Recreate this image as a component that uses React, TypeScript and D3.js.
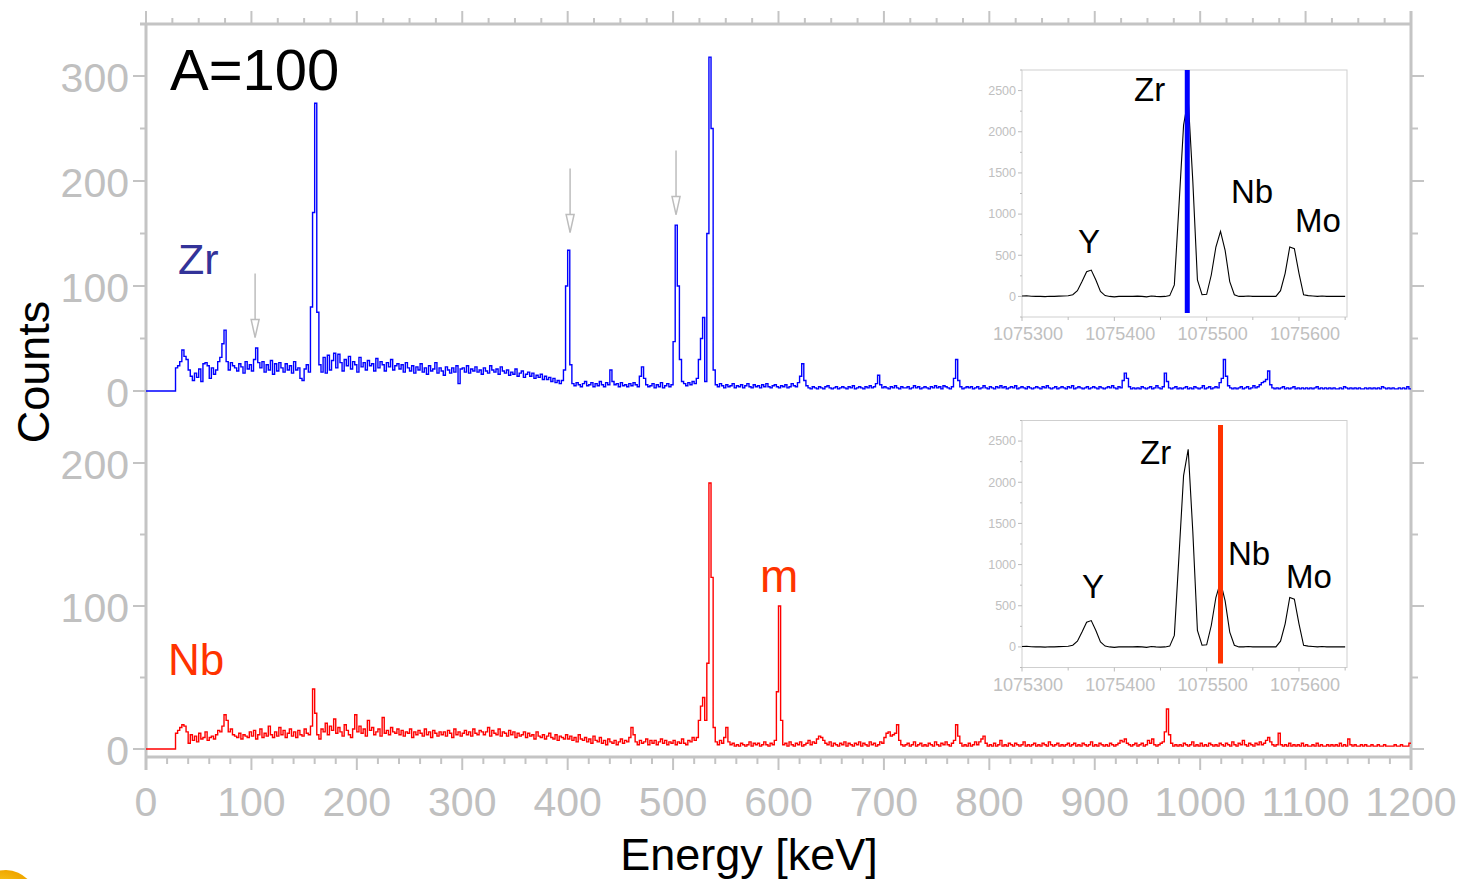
import React from "react";
import * as d3 from "d3";

// ---------- data ----------
const binWidth = 2; // keV per channel, channels start at 0 keV
const zrCounts = [
  0,0,0,0,0,0,0,0,0,0,
  0,0,0,0,22,24,28,39,33,30,
  20,14,10,17,13,21,9,26,27,24,
  12,22,16,20,28,32,45,58,28,20,
  27,24,22,19,26,23,17,28,21,25,
  19,30,41,27,22,28,18,25,20,29,
  16,26,19,27,22,18,26,20,24,17,
  28,20,22,12,10,21,25,18,80,170,
  274,75,25,18,32,17,34,20,29,36,
  22,35,27,19,30,24,33,21,28,25,
  18,32,23,27,20,29,24,26,19,31,
  22,28,25,19,27,23,30,20,24,26,
  21,25,18,27,22,19,24,17,23,20,
  26,18,22,16,24,19,21,27,17,22,
  19,15,23,20,17,22,18,24,7,21,
  22,18,24,17,21,19,23,18,20,16,
  22,19,17,24,20,18,21,16,23,19,
  17,20,15,18,16,21,14,17,19,13,
  16,18,14,17,12,15,13,16,11,14,
  11,13,9,12,8,10,7,10,20,100,
  134,25,7,5,8,6,4,7,9,5,
  6,8,4,7,5,9,6,4,8,6,
  20,9,6,7,4,8,5,6,4,7,
  5,8,6,4,14,23,12,6,4,5,
  7,3,6,4,8,3,5,7,4,6,
  47,158,100,30,9,7,5,8,6,9,
  7,12,30,50,70,9,150,318,250,20,
  6,4,7,5,3,6,4,5,7,3,
  5,4,6,3,5,7,4,3,6,4,
  5,3,6,4,7,4,3,5,6,4,
  3,5,4,6,3,4,7,5,4,8,
  14,26,10,5,3,2,4,3,2,4,
  3,2,4,5,3,2,3,4,2,3,
  4,3,2,4,3,5,2,3,4,3,
  2,4,3,5,3,4,7,15,6,3,
  4,3,2,4,3,5,3,2,4,3,
  3,4,2,3,5,3,4,2,3,4,
  3,2,4,3,5,3,4,2,5,4,
  3,2,4,12,30,10,4,2,3,4,
  3,4,2,3,4,2,3,5,3,2,
  4,3,2,4,3,5,3,4,2,3,
  4,3,5,2,3,4,3,2,4,3,
  2,3,4,3,2,4,3,5,3,2,
  3,4,2,3,4,3,2,4,3,5,
  2,3,4,3,2,3,4,2,3,4,
  3,2,4,3,2,3,4,3,5,3,
  2,4,3,10,17,12,4,2,3,2,
  3,2,4,3,2,3,4,2,3,5,
  3,2,4,17,9,3,2,3,4,2,
  3,2,3,4,2,3,2,4,3,2,
  3,5,2,3,4,2,3,4,3,8,
  12,30,14,5,3,2,3,2,3,4,
  2,3,4,2,3,5,3,4,6,8,
  9,11,19,6,3,2,3,2,3,4,
  2,3,2,3,4,2,3,2,3,2,
  3,2,3,2,3,4,2,3,2,3,
  2,3,2,3,2,2,3,2,4,3,
  2,3,2,3,2,3,2,2,3,2,
  3,2,3,2,3,2,4,3,2,3,
  2,3,2,2,3,2,3,2,4,2,
];

const nbCounts = [
  0,0,0,0,0,0,0,0,0,0,
  0,0,0,0,11,13,15,17,16,12,
  4,10,6,9,5,11,7,8,12,6,
  8,9,7,10,13,12,16,24,20,12,
  14,10,9,8,11,7,10,9,8,12,
  9,13,7,10,14,8,11,9,16,10,
  8,12,9,15,10,13,8,11,14,9,
  12,8,13,10,9,14,11,10,16,42,
  25,10,7,14,12,18,10,16,13,21,
  11,15,12,9,17,13,10,8,14,24,
  12,16,11,14,9,20,13,15,10,12,
  14,9,22,11,13,10,15,12,11,14,
  10,13,9,12,11,14,8,12,10,13,
  11,9,14,10,12,8,13,11,9,12,
  10,12,9,13,11,8,14,10,12,9,
  11,13,10,12,9,14,11,10,13,12,
  10,12,15,9,13,11,10,14,9,12,
  11,9,13,10,12,8,11,9,10,12,
  8,11,9,10,7,12,9,8,10,7,
  9,11,8,7,10,6,9,8,7,10,
  7,9,6,8,5,10,7,6,8,5,
  7,4,9,6,5,8,4,6,3,7,
  5,4,6,3,5,7,4,6,5,8,
  15,10,5,3,6,4,5,7,3,6,
  4,6,3,5,7,4,6,3,5,4,
  6,3,5,4,7,4,3,6,5,8,
  6,8,20,30,36,20,60,186,120,15,
  5,3,6,4,8,15,5,3,4,2,
  3,2,4,3,2,3,5,2,4,3,
  4,2,3,5,3,2,4,3,6,40,
  100,20,3,4,2,5,3,2,4,3,
  5,2,3,4,6,3,5,4,7,9,
  8,6,4,3,5,2,4,3,2,4,
  3,5,2,4,3,2,4,3,5,2,
  4,3,2,5,3,4,2,3,5,4,
  8,11,12,9,10,11,17,6,3,2,
  3,4,2,3,5,2,3,4,2,3,
  2,4,3,2,5,3,2,4,3,5,
  3,2,4,6,17,9,4,2,3,2,
  4,2,3,5,3,5,7,9,4,2,
  3,2,4,2,3,6,2,3,2,4,
  3,2,4,3,2,3,5,2,3,2,
  3,4,2,3,2,4,3,2,5,3,
  2,3,4,2,3,2,3,4,2,3,
  4,2,3,2,4,3,2,3,5,2,
  3,2,4,3,2,3,2,4,3,2,
  3,4,6,5,7,4,3,2,3,4,
  2,3,4,2,3,6,4,7,3,2,
  3,4,5,12,28,10,4,2,3,2,
  3,2,4,3,2,3,5,2,3,2,
  4,2,3,2,4,3,2,3,2,4,
  3,2,4,3,2,5,3,2,4,3,
  6,3,2,4,3,2,4,3,5,3,
  4,6,8,5,3,2,3,11,3,2,
  3,2,4,2,3,2,3,2,4,2,
  3,2,2,3,2,4,2,3,2,2,
  3,2,3,2,3,2,4,2,3,2,
  7,3,2,3,2,2,3,2,3,2,
  2,3,2,2,3,2,2,3,2,2,
  2,2,3,2,2,3,2,2,2,4,
];

const energyMajorTicks = [0, 100, 200, 300, 400, 500, 600, 700, 800, 900, 1000, 1100, 1200];
const topYTicks = [0, 100, 200, 300];
const topYMinor = [50, 150, 250];
const botYTicks = [0, 100, 200];
const botYMinor = [50, 150];

// arrows (energy keV, tail counts, tip counts) on the upper spectrum
const arrowEnergy = [103.5, 402.3, 502.8];
const arrowTail = [112, 212, 229];
const arrowTip = [51, 151, 168];

// inset mass spectrum
const insetStart = 1075300;
const insetStep = 5;
const insetCounts = [
  5,8,2,0,0,-3,2,0,3,5,
  8,20,70,180,300,320,200,60,10,0,
  -5,0,2,0,0,3,0,-5,5,0,
  -3,0,10,140,1100,2080,2400,1400,200,20,
  25,260,600,790,560,180,20,0,0,5,
  0,0,0,0,0,0,70,280,600,580,
  280,20,10,5,0,5,0,0,2,0,
  0,
];
const insetXTicks = [1075300, 1075400, 1075500, 1075600];
const insetYTicks = [0, 500, 1000, 1500, 2000, 2500];
const zrMarker = 1075479;
const nbMarker = 1075515;

// ---------- layout ----------
const FONT = "'Liberation Sans', Arial, Helvetica, sans-serif";
const AX = "#c4c4c4";
const LBL = "#c0c0c0";

const xMain = d3.scaleLinear().domain([0, 1200]).range([146, 1411]);
const yTop = d3.scaleLinear().domain([0, 300]).range([391, 76]);
const yBot = d3.scaleLinear().domain([0, 200]).range([749, 463]);

function stepPath(counts: number[], y: d3.ScaleLinear<number, number>) {
  const pts = counts.map((c, i) => [i * binWidth, c] as [number, number]);
  pts.push([counts.length * binWidth, counts[counts.length - 1]]);
  return d3
    .line<[number, number]>()
    .x((d) => xMain(d[0]))
    .y((d) => y(d[1]))
    .curve(d3.curveStepAfter)(pts) as string;
}

type InsetProps = { top: number; marker: number; markerColor: string; labels: { t: string; x: number; y: number }[]; markerTop: number };

function Inset({ top, marker, markerColor, labels, markerTop }: InsetProps) {
  const left = 1022, right = 1347, bottom = top + 247;
  const xs = d3.scaleLinear().domain([1075300, 1075652]).range([left, right]);
  const ys = d3.scaleLinear().domain([-250, 2750]).range([bottom, top]);
  const pts = insetCounts.map((c, i) => [insetStart + i * insetStep, c] as [number, number]);
  const path = d3.line<[number, number]>().x((d) => xs(d[0])).y((d) => ys(d[1]))(pts) as string;
  const xMinor = d3.range(1075350, 1075651, 100);
  const yMinor = d3.range(-250, 2751, 500);
  return (
    <g>
      <rect x={left} y={top} width={right - left} height={bottom - top} fill="#fff" stroke="#cfcfcf" strokeWidth={1} />
      {insetYTicks.map((v) => (
        <g key={"iy" + v}>
          <line x1={left - 4} x2={left} y1={ys(v)} y2={ys(v)} stroke="#bbb" strokeWidth={1} />
          <text x={left - 6} y={ys(v)} dy="0.35em" textAnchor="end" fontSize={12.5} fill={LBL} fontFamily={FONT}>{v}</text>
        </g>
      ))}
      {yMinor.map((v) => (
        <line key={"iym" + v} x1={left - 2} x2={left} y1={ys(v)} y2={ys(v)} stroke="#bbb" strokeWidth={1} />
      ))}
      {insetXTicks.map((v) => (
        <g key={"ix" + v}>
          <line x1={xs(v)} x2={xs(v)} y1={bottom} y2={bottom + 4} stroke="#bbb" strokeWidth={1} />
          <text x={xs(v) + 6} y={bottom + 23} textAnchor="middle" fontSize={18} fill={LBL} fontFamily={FONT}>{v}</text>
        </g>
      ))}
      {xMinor.map((v) => (
        <line key={"ixm" + v} x1={xs(v)} x2={xs(v)} y1={bottom} y2={bottom + 3} stroke="#bbb" strokeWidth={1} />
      ))}
      <path d={path} fill="none" stroke="#000" strokeWidth={1.1} />
      <line x1={xs(marker)} x2={xs(marker)} y1={markerTop} y2={bottom - 4} stroke={markerColor} strokeWidth={5} />
      {labels.map((l) => (
        <text key={l.t} x={l.x} y={l.y} fontSize={33} fill="#000" fontFamily={FONT}>{l.t}</text>
      ))}
    </g>
  );
}

export default function App() {
  const minorBottom = d3.range(0, 1201, 20).filter((v) => v % 100 !== 0);
  const minorTop = d3.range(0, 1201, 25).filter((v) => v % 100 !== 0);
  return (
    <div style={{ position: "absolute", left: 0, top: 0 }}>
      <svg width={1464} height={879} style={{ display: "block", background: "#fff" }}>
        <defs>
          <radialGradient id="sun" cx="0.4" cy="0.6" r="0.6">
            <stop offset="0%" stopColor="#ffe680" />
            <stop offset="70%" stopColor="#f7c21a" />
            <stop offset="100%" stopColor="#f0a800" />
          </radialGradient>
        </defs>
        {/* corner logo fragment */}
        <ellipse cx={6} cy={905} rx={32} ry={35} fill="url(#sun)" />

        {/* axes frame */}
        <line x1={140} x2={1412} y1={24} y2={24} stroke={AX} strokeWidth={3} />
        <line x1={146} x2={146} y1={23} y2={770} stroke={AX} strokeWidth={3} />
        <line x1={1411} x2={1411} y1={11} y2={770} stroke={AX} strokeWidth={3} />
        <line x1={145} x2={1412} y1={757} y2={757} stroke={AX} strokeWidth={3} />

        {/* bottom ticks + labels */}
        {energyMajorTicks.map((v) => (
          <g key={"bx" + v}>
            <line x1={xMain(v)} x2={xMain(v)} y1={757} y2={770} stroke={AX} strokeWidth={2} />
            <text x={xMain(v)} y={816} textAnchor="middle" fontSize={41} fill={LBL} fontFamily={FONT}>{v}</text>
          </g>
        ))}
        {minorBottom.map((v) => (
          <line key={"bm" + v} x1={xMain(v)} x2={xMain(v)} y1={757} y2={764} stroke={AX} strokeWidth={2} />
        ))}
        {/* top ticks */}
        {energyMajorTicks.map((v) => (
          <line key={"tx" + v} x1={xMain(v)} x2={xMain(v)} y1={24} y2={11} stroke={AX} strokeWidth={2} />
        ))}
        {minorTop.map((v) => (
          <line key={"tm" + v} x1={xMain(v)} x2={xMain(v)} y1={24} y2={18} stroke={AX} strokeWidth={2} />
        ))}

        {/* y ticks, upper panel */}
        {topYTicks.map((v) => (
          <g key={"ty" + v}>
            <line x1={133} x2={146} y1={yTop(v)} y2={yTop(v)} stroke={AX} strokeWidth={2} />
            <line x1={1411} x2={1424} y1={yTop(v)} y2={yTop(v)} stroke={AX} strokeWidth={2} />
            <text x={129} y={yTop(v) + 16} textAnchor="end" fontSize={41} fill={LBL} fontFamily={FONT}>{v}</text>
          </g>
        ))}
        {topYMinor.map((v) => (
          <g key={"tym" + v}>
            <line x1={140} x2={146} y1={yTop(v)} y2={yTop(v)} stroke={AX} strokeWidth={2} />
            <line x1={1411} x2={1418} y1={yTop(v)} y2={yTop(v)} stroke={AX} strokeWidth={2} />
          </g>
        ))}
        {/* y ticks, lower panel */}
        {botYTicks.map((v) => (
          <g key={"by" + v}>
            <line x1={133} x2={146} y1={yBot(v)} y2={yBot(v)} stroke={AX} strokeWidth={2} />
            <line x1={1411} x2={1424} y1={yBot(v)} y2={yBot(v)} stroke={AX} strokeWidth={2} />
            <text x={129} y={yBot(v) + 16} textAnchor="end" fontSize={41} fill={LBL} fontFamily={FONT}>{v}</text>
          </g>
        ))}
        {botYMinor.map((v) => (
          <g key={"bym" + v}>
            <line x1={140} x2={146} y1={yBot(v)} y2={yBot(v)} stroke={AX} strokeWidth={2} />
            <line x1={1411} x2={1418} y1={yBot(v)} y2={yBot(v)} stroke={AX} strokeWidth={2} />
          </g>
        ))}

        {/* spectra */}
        <path d={stepPath(zrCounts, yTop)} fill="none" stroke="#0000ff" strokeWidth={1.4} />
        <path d={stepPath(nbCounts, yBot)} fill="none" stroke="#ff0000" strokeWidth={1.4} />

        {/* arrows */}
        {arrowEnergy.map((e, i) => {
          const x = xMain(e);
          const y1 = yTop(arrowTail[i]);
          const y2 = yTop(arrowTip[i]);
          return (
            <g key={"ar" + i} stroke="#bdbdbd" strokeWidth={1.5} fill="none">
              <line x1={x} x2={x} y1={y1} y2={y2} />
              <path d={`M${x - 4},${y2 - 18} L${x},${y2} L${x + 4},${y2 - 18} Z`} fill="#fff" />
            </g>
          );
        })}

        {/* insets */}
        <Inset
          top={70}
          marker={zrMarker}
          markerColor="#0000ff"
          markerTop={70}
          labels={[
            { t: "Zr", x: 1134, y: 101 },
            { t: "Y", x: 1078, y: 253 },
            { t: "Nb", x: 1231, y: 203 },
            { t: "Mo", x: 1295, y: 232 },
          ]}
        />
        <Inset
          top={420.5}
          marker={nbMarker}
          markerColor="#ff3300"
          markerTop={425}
          labels={[
            { t: "Zr", x: 1140, y: 464 },
            { t: "Y", x: 1082, y: 598 },
            { t: "Nb", x: 1228, y: 565 },
            { t: "Mo", x: 1286, y: 588 },
          ]}
        />

        {/* labels */}
        <text x={170} y={90} fontSize={58} fill="#000" fontFamily={FONT}>A=100</text>
        <text x={178} y={274} fontSize={43} fill="#333399" fontFamily={FONT}>Zr</text>
        <text x={168} y={675} fontSize={44} fill="#ff3300" fontFamily={FONT}>Nb</text>
        <text x={760} y={592} fontSize={46} fill="#ff3300" fontFamily={FONT}>m</text>
        <text x={749} y={870} textAnchor="middle" fontSize={45} fill="#000" fontFamily={FONT}>Energy [keV]</text>
        <text transform="translate(49,372) rotate(-90)" textAnchor="middle" fontSize={45} fill="#000" fontFamily={FONT}>Counts</text>
      </svg>
    </div>
  );
}
